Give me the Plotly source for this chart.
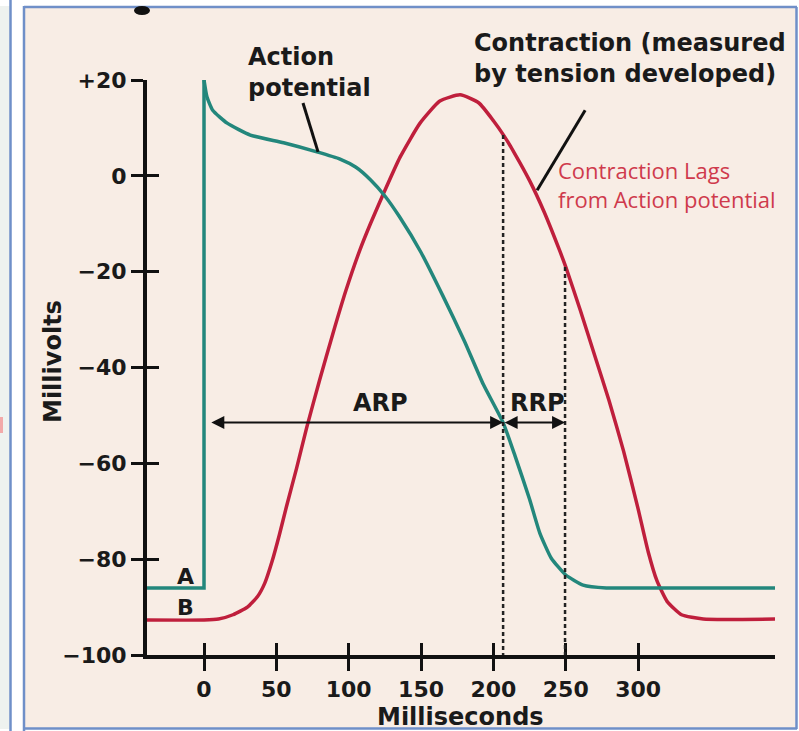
import plotly.graph_objects as go

# ---------------- data ----------------
# action potential: resting level + upstroke
ap_up_ms = [-39.4, 0, 0]
ap_up_mv = [-86, -86, 20]
# action potential: plateau and repolarisation
ap_ms = [0, 2, 6, 16, 32, 55, 78, 94, 105, 115, 125, 135, 150, 165, 180, 193, 206.7,
         215, 225, 232, 240, 250, 262, 278, 300, 394.6]
ap_mv = [20, 16.5, 13.7, 11, 8.5, 6.9, 5.0, 3.5, 1.8, -0.8, -4.2, -8.5, -16, -25, -34.5, -43.5,
         -51.5, -58.5, -67.5, -74.5, -79.8, -83.3, -85.4, -86, -86, -86]

# contraction (tension)
ct_ms = [-39.4, 0, 10, 20, 30, 37, 42, 47, 52, 57, 64, 71, 80, 89, 98, 107.7, 115, 123.6,
         135.5, 149.3, 163, 177, 190, 200, 207, 215, 225, 235, 245, 250, 260, 270, 280, 290,
         300, 307, 313, 320, 330, 345, 394.6]
ct_mv = [-92.7, -92.7, -92.5, -91.6, -90.0, -87.8, -85, -80.5, -75, -69, -61, -52.5, -42.5,
         -33, -24, -15.5, -10, -4, 3.9, 11.0, 15.6, 16.9, 15.2, 11.5, 8.5, 4.5, -1.0, -7.5,
         -15, -19, -28, -37.5, -47, -57.5, -69.5, -78.5, -84.5, -88.8, -91.6, -92.5, -92.5]

x_tick_vals = [0, 50, 100, 150, 200, 250, 300]
x_tick_text = ["0", "50", "100", "150", "200", "250", "300"]
y_tick_vals = [20, 0, -20, -40, -60, -80, -100]
y_tick_text = ["+20", "0", "\u221220", "\u221240", "\u221260", "\u221280", "\u2212100"]

# refractory period markers (ms) and level (mV)
arp_start, arp_end, rrp_end = 4, 206.7, 249.5
marker_level = -51.5
dash_tops = [8.5, -19]  # where the dashed lines meet the contraction curve

TEAL = "#23877c"
RED = "#bf1f3c"
BG = "#f8ede5"
BLUE = "#6f8fc8"
FONT = "DejaVu Sans"

fig = go.Figure()
fig.add_trace(go.Scatter(x=ct_ms, y=ct_mv, mode="lines",
                         line=dict(color=RED, width=3.5, shape="spline", smoothing=0.5),
                         showlegend=False, hoverinfo="skip"))
fig.add_trace(go.Scatter(x=ap_up_ms, y=ap_up_mv, mode="lines",
                         line=dict(color=TEAL, width=3.5),
                         showlegend=False, hoverinfo="skip"))
fig.add_trace(go.Scatter(x=ap_ms, y=ap_mv, mode="lines",
                         line=dict(color=TEAL, width=3.5, shape="spline", smoothing=0.5),
                         showlegend=False, hoverinfo="skip"))
# dummy trace so inside-tick overlay axes render
fig.add_trace(go.Scatter(x=[None], y=[None], xaxis="x2", yaxis="y2", showlegend=False,
                         hoverinfo="skip"))

# dashed lines
for xv, top in zip([arp_end, rrp_end], dash_tops):
    fig.add_shape(type="line", xref="x", yref="y", x0=xv, x1=xv, y0=top, y1=-100,
                  line=dict(color="#222", width=2.5, dash="4px,3px"), layer="above")

# arrows
def dbl_arrow(x0, x1, y):
    fig.add_annotation(x=x1, y=y, ax=x0, ay=y, xref="x", yref="y", axref="x", ayref="y",
                       text="", showarrow=True, arrowhead=2, startarrowhead=2,
                       arrowside="end+start", arrowsize=1.3, startarrowsize=1.3,
                       arrowwidth=2, arrowcolor="#111", standoff=0, startstandoff=0)

dbl_arrow(arp_start, arp_end, marker_level)
dbl_arrow(arp_end, rrp_end, marker_level)

bold = dict(family=FONT, size=24, color="#1a1a1a", weight="bold")

def label(x, y, text, **kw):
    d = dict(x=x, y=y, xref="x", yref="y", text=text, showarrow=False, font=bold,
             xanchor="center", yanchor="middle")
    d.update(kw)
    fig.add_annotation(**d)

# frame geometry (pixel -> paper)
L, R, T, B = 147, 775, 80, 655
def px(xp):
    return (xp - L) / (R - L)
def py(yp):
    return (B - yp) / (B - T)

def plabel(xp, yp, text, **kw):
    d = dict(x=px(xp), y=py(yp), xref="paper", yref="paper", text=text,
             showarrow=False, font=bold, xanchor="center", yanchor="middle")
    d.update(kw)
    fig.add_annotation(**d)

label(121.7, -47.5, "ARP")
label(230.5, -47.5, "RRP")
label(-13.1, -83.7, "A", font=dict(family=FONT, size=22, color="#1a1a1a", weight="bold"))
label(-13.1, -90.0, "B", font=dict(family=FONT, size=22, color="#1a1a1a", weight="bold"))
plabel(246, 73, "Action<br>potential", xanchor="left", align="left")
plabel(472, 59, "Contraction (measured<br>by tension developed)", xanchor="left", align="left")
label(243.5, -1.8, "Contraction Lags<br>from Action potential", xanchor="left", align="left",
      font=dict(family="Open Sans", size=22, color="#cf3a4c"))
plabel(53, 362, "Millivolts", textangle=-90)
plabel(460, 717, "Milliseconds")

# pointer lines
fig.add_shape(type="line", xref="x", yref="y", x0=68.4, y0=15.2, x1=78.8, y1=5.0,
              line=dict(color="#111", width=3))
fig.add_shape(type="line", xref="x", yref="y", x0=263.4, y0=13.7, x1=230.2, y1=-3.0,
              line=dict(color="#111", width=3))

def prect(x0, y0, x1, y1, color):
    fig.add_shape(type="rect", xref="paper", yref="paper", x0=px(x0), x1=px(x1),
                  y0=py(y0), y1=py(y1), fillcolor=color, line=dict(width=0), layer="below")

def pline(x0, y0, x1, y1, color=BLUE, w=2.5):
    fig.add_shape(type="line", xref="paper", yref="paper", x0=px(x0), x1=px(x1),
                  y0=py(y0), y1=py(y1), line=dict(color=color, width=w), layer="above")

prect(0, 0, 10, 731, "#eef2ef")
prect(10, 0, 24, 731, "#ffffff")
prect(0, 0, 799, 6, "#ffffff")
prect(797, 0, 799, 731, "#ffffff")
prect(0, 729, 799, 731, "#ffffff")
prect(0, 417, 3, 433, "#f2a9a9")
pline(10.5, 0, 10.5, 731)
pline(24, 6, 24, 731)
pline(24, 7, 797, 7)
pline(796.5, 7, 796.5, 729)
pline(24, 728.5, 797, 728.5)
fig.add_shape(type="circle", xref="paper", yref="paper", x0=px(134), x1=px(150),
              y0=py(6), y1=py(15), fillcolor="#111", line=dict(width=0), layer="above")

tickfont = dict(family=FONT, size=22, color="#1a1a1a", weight="bold")
fig.update_layout(
    width=799, height=731, autosize=False,
    margin=dict(l=L, r=799 - R, t=T, b=731 - B, pad=0),
    paper_bgcolor=BG, plot_bgcolor=BG,
    xaxis=dict(range=[-39.4, 394.6], showgrid=False, zeroline=False, showline=True,
               linecolor="#111", linewidth=4, ticks="outside", ticklen=12, tickwidth=3,
               tickcolor="#111", tickvals=x_tick_vals, ticktext=x_tick_text,
               tickfont=tickfont, ticklabelstandoff=0),
    yaxis=dict(range=[-100, 20], showgrid=False, zeroline=False, showline=True,
               linecolor="#111", linewidth=4, ticks="outside", ticklen=12, tickwidth=3,
               tickcolor="#111", tickvals=y_tick_vals, ticktext=y_tick_text,
               tickfont=tickfont, ticklabelstandoff=0),
    xaxis2=dict(overlaying="x", matches="x", anchor="y", showgrid=False, zeroline=False,
                showline=False, ticks="inside", ticklen=12, tickwidth=3, tickcolor="#111",
                tickvals=x_tick_vals, showticklabels=False),
    yaxis2=dict(overlaying="y", matches="y", anchor="x", showgrid=False, zeroline=False,
                showline=False, ticks="inside", ticklen=12, tickwidth=3, tickcolor="#111",
                tickvals=y_tick_vals, showticklabels=False),
)

fig.write_html("out.html", post_script="document.body.style.margin='0px';",
               config={"displayModeBar": False})
